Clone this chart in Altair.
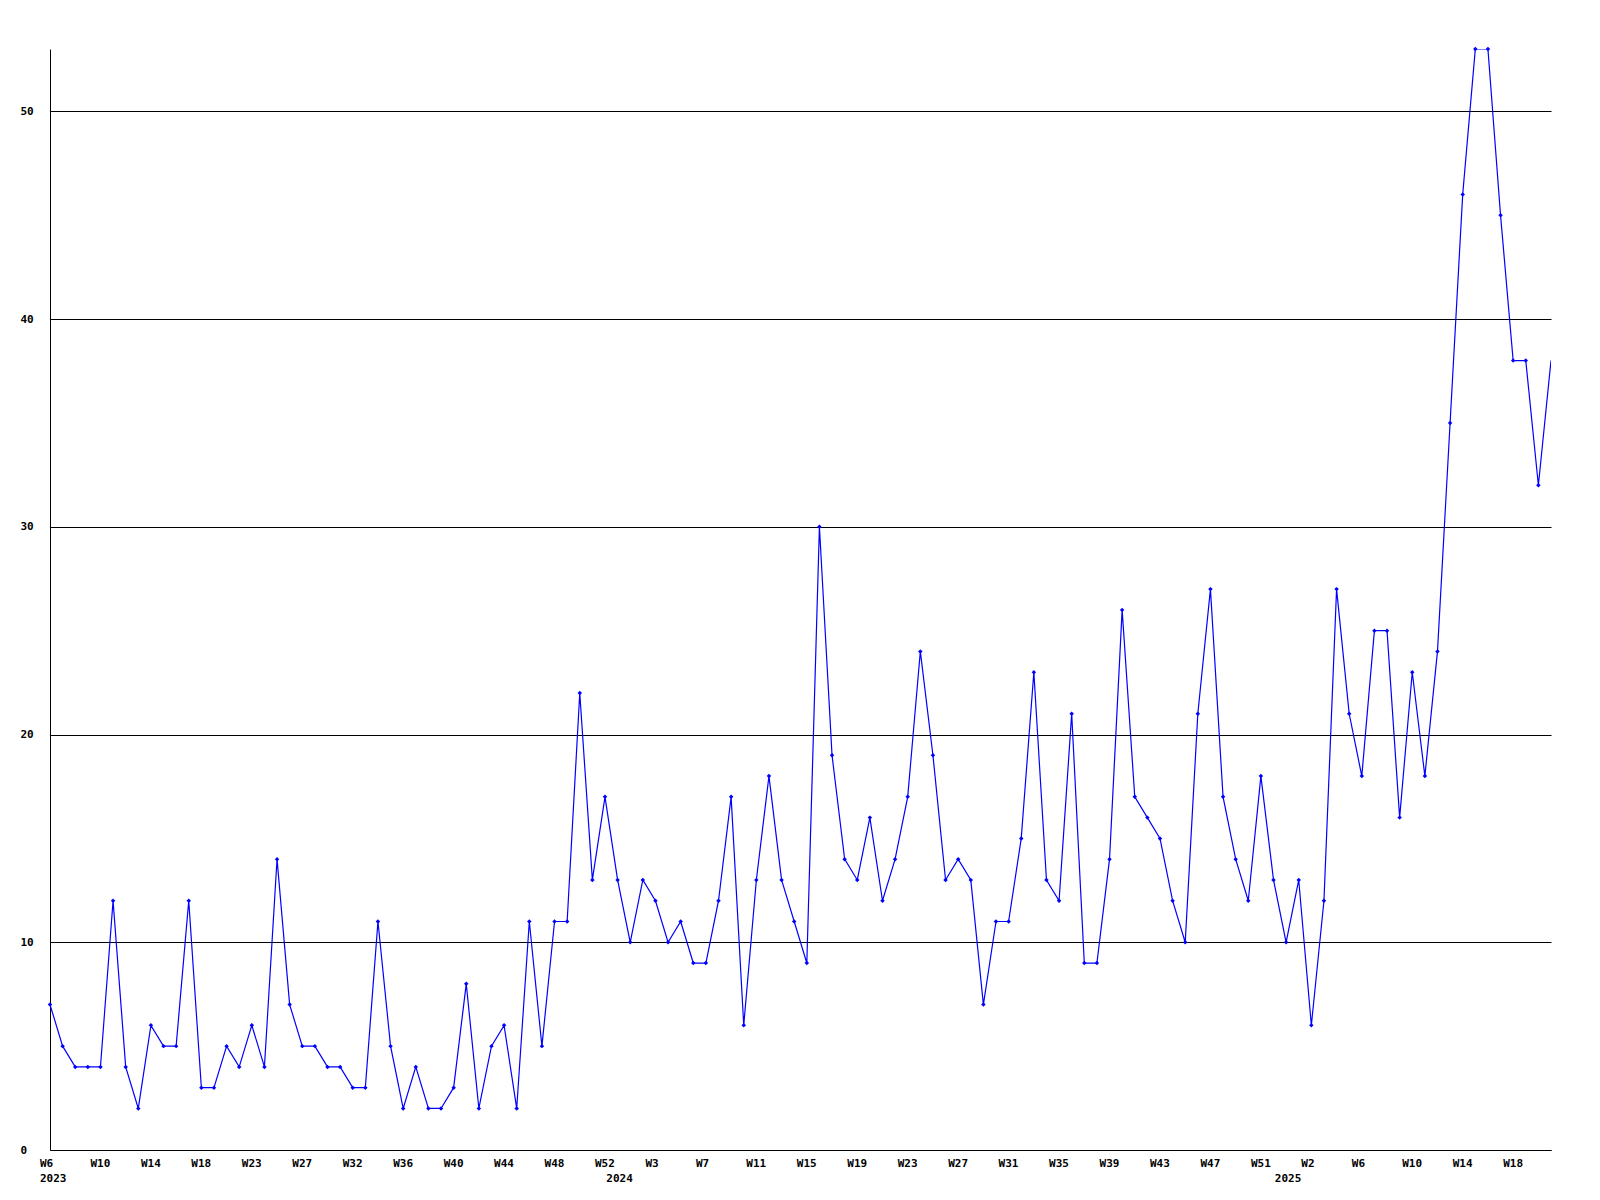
import altair as alt
import pandas as pd

values = [7, 5, 4, 4, 4, 12, 4, 2, 6, 5, 5, 12, 3, 3, 5, 4, 6, 4, 14, 7,
          5, 5, 4, 4, 3, 3, 11, 5, 2, 4, 2, 2, 3, 8, 2, 5, 6, 2, 11, 5,
          11, 11, 22, 13, 17, 13, 10, 13, 12, 10, 11, 9, 9, 12, 17, 6, 13, 18, 13, 11,
          9, 30, 19, 14, 13, 16, 12, 14, 17, 24, 19, 13, 14, 13, 7, 11, 11, 15, 23, 13,
          12, 21, 9, 9, 14, 26, 17, 16, 15, 12, 10, 21, 27, 17, 14, 12, 18, 13, 10, 13,
          6, 12, 27, 21, 18, 25, 25, 16, 23, 18, 24, 35, 46, 53, 53, 45, 38, 38, 32, 38]

tick_labels = ["W6", "W10", "W14", "W18", "W23", "W27", "W32", "W36", "W40", "W44",
               "W48", "W52", "W3", "W7", "W11", "W15", "W19", "W23", "W27", "W31",
               "W35", "W39", "W43", "W47", "W51", "W2", "W6", "W10", "W14", "W18"]
tick_positions = [4 * i for i in range(len(tick_labels))]

year_labels = ["2023", "2024", "2025"]
year_positions = [0, 44.9, 97.9]

n = len(values)
df = pd.DataFrame({"i": list(range(n)), "v": values})
ticks = pd.DataFrame({"i": tick_positions, "label": tick_labels})
years = pd.DataFrame({"i": year_positions, "label": year_labels})

FONT = "DejaVu Sans Mono"

xscale = alt.Scale(domain=[0, n - 1], nice=False, zero=False)
yscale = alt.Scale(domain=[0, 53], nice=False)

xaxis = alt.Axis(values=tick_positions, labels=False,
                 ticks=False, grid=False, domainColor="black", domainWidth=1,
                 title=None)
yaxis = alt.Axis(values=[0, 10, 20, 30, 40, 50], labelAlign="left", labelPadding=30,
                 ticks=False, grid=True, gridColor="black", gridWidth=1, gridOpacity=1,
                 domainColor="black", domainWidth=1,
                 labelFont=FONT, labelFontSize=11, labelFontWeight="bold",
                 labelColor="black", title=None, labelFlush=False)

line = alt.Chart(df).mark_line(color="#0000ff", strokeWidth=1.2, clip=True).encode(
    x=alt.X("i:Q", scale=xscale, axis=xaxis),
    y=alt.Y("v:Q", scale=yscale, axis=yaxis),
)
pts = alt.Chart(df).mark_point(shape="diamond", filled=True, size=20, color="#0000ff",
                               opacity=1).encode(
    x=alt.X("i:Q", scale=xscale),
    y=alt.Y("v:Q", scale=yscale),
).transform_filter(f"datum.i < {n - 1}")
tk = alt.Chart(ticks).mark_text(align="left", baseline="top", dx=-10, font=FONT,
                                fontSize=11, fontWeight="bold", color="black").encode(
    x=alt.X("i:Q", scale=xscale),
    y=alt.value(1109),
    text="label:N",
)
yr = alt.Chart(years).mark_text(align="left", baseline="top", dx=-10, font=FONT,
                                fontSize=11, fontWeight="bold", color="black").encode(
    x=alt.X("i:Q", scale=xscale),
    y=alt.value(1124),
    text="label:N",
)

chart = alt.layer(line, pts, tk, yr).properties(
    width=1501, height=1101,
    autosize=alt.AutoSizeParams(type="none"),
    padding={"left": 42, "top": 41, "right": 30, "bottom": 40},
).configure(background="white").configure_view(strokeWidth=0, stroke="transparent")

chart.save("out.html", embed_options={"renderer": "svg", "actions": False})
